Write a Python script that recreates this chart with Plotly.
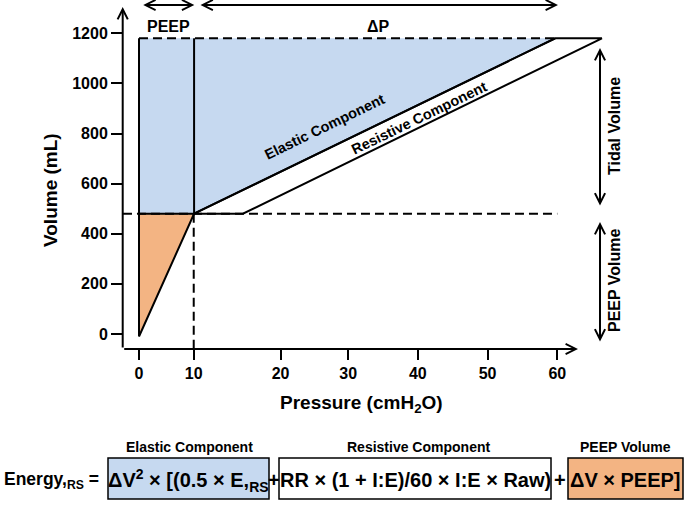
import plotly.graph_objects as go

# ---------------- data ----------------
pressure_tick_pos = [0, 7.85, 20.3, 30, 40, 50, 60]
pressure_tick_labels = ["0", "10", "20", "30", "40", "50", "60"]
volume_ticks = [0, 200, 400, 600, 800, 1000, 1200]

# PEEP volume triangle (pressure, volume)
peep_p = [0, 7.9, 0]
peep_v = [-10, 480, 480]

# elastic component area
elastic_p = [0, 0, 59.7, 7.9]
elastic_v = [480, 1180, 1180, 480]

# resistive component band
resistive_p = [7.9, 14.9, 66.4, 59.7]
resistive_v = [480, 480, 1180, 1180]

# reference (dashed) lines
peep_level_p = [-2.3, 60]
peep_level_v = [480, 480]
peep_drop_p = [7.85, 7.85]
peep_drop_v = [480, -60]
tidal_top_p = [0, 59.7]
tidal_top_v = [1180, 1180]

# solid edges
blue_left_p = [0, 0]
blue_left_v = [480, 1180]
peep_vert_p = [7.9, 7.9]
peep_vert_v = [480, 1180]
elastic_line_p = [7.9, 59.7]
elastic_line_v = [480, 1180]

X_RANGE = [-2.295, 67.56]
Y_RANGE = [-59.9, 1305]

BLUE = "#C6D9F0"
ORANGE = "#F3B483"
FONT = "Liberation Sans, Arial, sans-serif"

# ---------------- layout geometry (pixels) ----------------
L, T, W, H = 123, 7, 487, 342
FIG_W, FIG_H = 685, 505


def X(px):
    return (px - L) / W


def Y(py):
    return (T + H - py) / H


fig = go.Figure()


def line(xs, ys, dash=None, width=2):
    fig.add_trace(go.Scatter(x=xs, y=ys, mode="lines",
                             line=dict(color="black", width=width, dash=dash),
                             hoverinfo="skip", showlegend=False))


def fill(xs, ys, color):
    fig.add_trace(go.Scatter(x=xs + [xs[0]], y=ys + [ys[0]], mode="lines",
                             fill="toself", fillcolor=color,
                             line=dict(width=0, color=color),
                             hoverinfo="skip", showlegend=False))


# fills
fill(elastic_p, elastic_v, BLUE)
fill(peep_p, peep_v, ORANGE)
fill(resistive_p, resistive_v, "white")

# dashed lines
DASH = "9px,5px"
line(peep_level_p, peep_level_v, DASH)
line(peep_drop_p, peep_drop_v, DASH)
line(tidal_top_p, tidal_top_v, DASH)

# solid outlines
line(peep_p + [peep_p[0]], peep_v + [peep_v[0]])
line(resistive_p + [resistive_p[0]], resistive_v + [resistive_v[0]])
line(blue_left_p, blue_left_v)
line(peep_vert_p, peep_vert_v)
line(elastic_line_p, elastic_line_v)

annotations = []


def text(px, py, s, size=16, angle=0, xanchor="center"):
    annotations.append(dict(x=X(px), y=Y(py), xref="paper", yref="paper",
                            text=s, showarrow=False, textangle=angle,
                            xanchor=xanchor, yanchor="middle",
                            font=dict(size=size, color="black", family=FONT,
                                      weight="bold")))


def arrow(hx, hy, tx, ty, double=True):
    annotations.append(dict(x=X(hx), y=Y(hy), xref="paper", yref="paper",
                            ax=tx - hx, ay=ty - hy, axref="pixel", ayref="pixel",
                            text="", showarrow=True,
                            arrowhead=5, arrowsize=1, arrowwidth=2,
                            startarrowhead=5, startarrowsize=1,
                            arrowside="end+start" if double else "end",
                            arrowcolor="black", standoff=0, startstandoff=0))


# axis lines with arrow tips
arrow(122.7, 7, 122.7, 349, double=False)
arrow(578, 349, 122.7, 349, double=False)

# top double arrows
arrow(194.3, 5, 141.7, 5)
arrow(558, 5, 199, 5)
text(168, 26, "PEEP")
text(378, 26, "ΔP")

# right side double arrows
arrow(600, 48, 600, 207)
arrow(600, 222, 600, 343)
text(614, 126, "Tidal Volume", angle=-90)
text(614, 280, "PEEP Volume", angle=-90)

# axis titles
text(50, 190, "Volume (mL)", size=19, angle=-90)
text(361.5, 404, "Pressure (cmH<sub>2</sub>O)", size=19)

# in-plot labels
text(324, 127, "Elastic Component", size=14.5, angle=-25.9)
text(419, 118, "Resistive Component", size=14.5, angle=-25.9)

# equation
text(101, 481, "Energy,<sub>RS</sub> =", size=17.5, xanchor="right")
text(188.5, 480, "ΔV<sup>2</sup> × [(0.5 × E,<sub>RS</sub>", size=20)
text(274, 480, "+", size=20)
text(415, 480, "RR × (1 + I:E)/60 × I:E × Raw)", size=20)
text(560, 480, "+", size=20)
text(625.5, 480, "ΔV × PEEP]", size=20)
text(189.5, 447, "Elastic Component", size=14)
text(418, 447, "Resistive Component", size=14)
text(625, 447, "PEEP Volume", size=14)

shapes = []
for (x0, x1, color) in [(108, 269, BLUE), (279, 551, "white"), (568, 683, ORANGE)]:
    shapes.append(dict(type="rect", xref="paper", yref="paper",
                       x0=X(x0), x1=X(x1), y0=Y(499), y1=Y(458),
                       fillcolor=color, line=dict(color="black", width=1.5),
                       layer="below"))

fig.update_layout(
    width=FIG_W, height=FIG_H,
    margin=dict(l=L, r=FIG_W - L - W, t=T, b=FIG_H - T - H, pad=0),
    paper_bgcolor="white", plot_bgcolor="white",
    font=dict(family=FONT, size=16, color="black", weight="bold"),
    showlegend=False,
    annotations=annotations,
    shapes=shapes,
    xaxis=dict(range=X_RANGE, tickvals=pressure_tick_pos, ticktext=pressure_tick_labels,
               ticks="outside", ticklen=10, tickwidth=2, tickcolor="black",
               showgrid=False, zeroline=False, showline=False,
               tickfont=dict(size=16, family=FONT, color="black", weight="bold"),
               fixedrange=True),
    yaxis=dict(range=Y_RANGE, tickvals=volume_ticks,
               ticks="outside", ticklen=11, tickwidth=2, tickcolor="black",
               showgrid=False, zeroline=False, showline=False,
               tickfont=dict(size=16, family=FONT, color="black", weight="bold"),
               fixedrange=True),
)

fig.write_html(
    "out.html",
    config={"staticPlot": True},
    post_script="document.body.style.margin='0px';document.body.style.overflow='hidden';",
)
